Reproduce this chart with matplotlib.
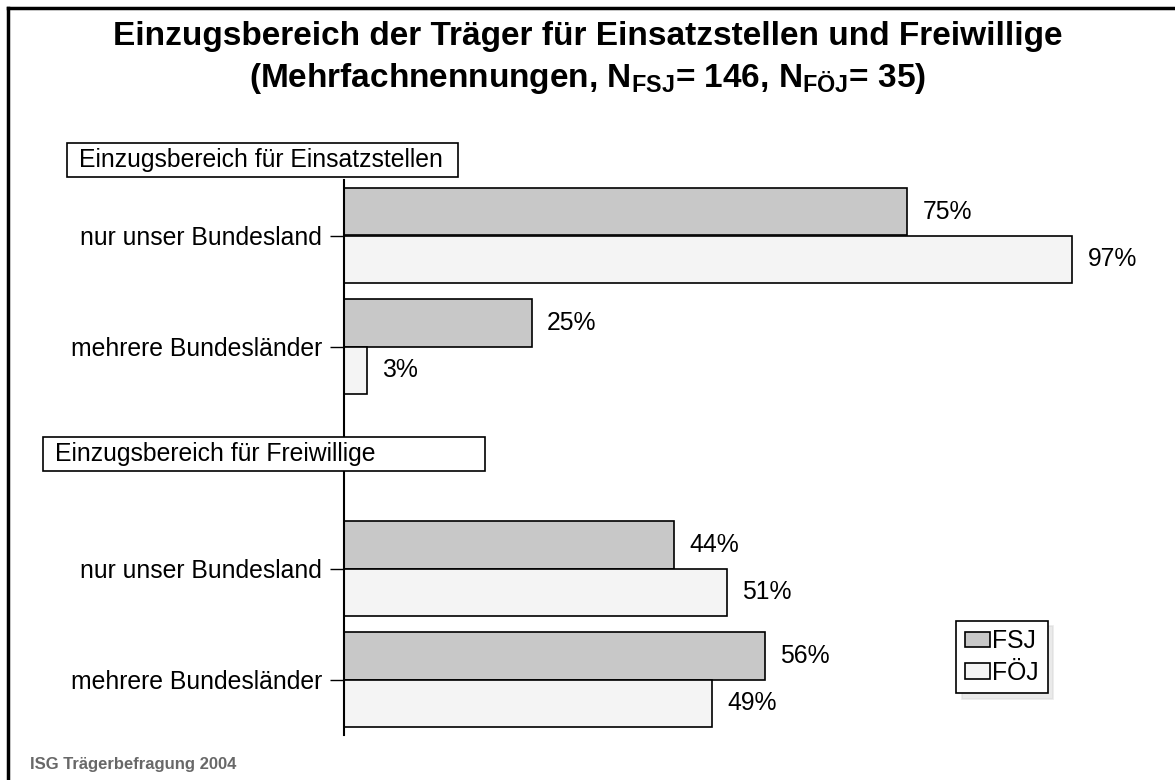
import matplotlib
matplotlib.use("Agg")
import matplotlib.pyplot as plt
from matplotlib.patches import Rectangle
from matplotlib.lines import Line2D
import numpy as np

plt.rcParams["font.family"] = ["Liberation Sans", "DejaVu Sans"]
plt.rcParams["mathtext.fontset"] = "custom"
plt.rcParams["mathtext.rm"] = "Liberation Sans:bold"
plt.rcParams["mathtext.default"] = "rm"

# data
categories = ["nur unser Bundesland", "mehrere Bundesländer",
              "nur unser Bundesland", "mehrere Bundesländer"]
positions = [0, 1, 3, 4]
fsj = [75, 25, 44, 56]
foej = [97, 3, 51, 49]
sections = ["Einzugsbereich für Einsatzstellen", "Einzugsbereich für Freiwillige"]

W, H = 1175, 780
fs = 17.8
fig = plt.figure(figsize=(W / 100, H / 100), dpi=100)

# axes placed in pixel terms
ax_left, ax_right, ax_top, ax_bottom = 344, 1095, 180, 735
ax = fig.add_axes([ax_left / W, 1 - ax_bottom / H,
                   (ax_right - ax_left) / W, (ax_bottom - ax_top) / H])

pos = np.array(positions)
bh = 0.43
ax.barh(pos - bh / 2, fsj, height=bh, color="#c8c8c8", edgecolor="black",
        linewidth=1.2, label="FSJ")
ax.barh(pos + bh / 2, foej, height=bh, color="#f4f4f4", edgecolor="black",
        linewidth=1.2, label="FÖJ")

for p, a, b in zip(pos, fsj, foej):
    ax.annotate(f"{a}%", (a, p - bh / 2), xytext=(11, 0), textcoords="offset points",
                va="center", ha="left", fontsize=fs)
    ax.annotate(f"{b}%", (b, p + bh / 2), xytext=(11, 0), textcoords="offset points",
                va="center", ha="left", fontsize=fs)

ax.set_xlim(0, 100)
ax.set_ylim(4.5, -0.5)
ax.set_yticks(positions)
ax.set_yticklabels(categories, fontsize=fs)
ax.tick_params(axis="y", length=10, width=1, pad=6)
ax.set_xticks([])
for s in ["top", "right", "bottom"]:
    ax.spines[s].set_visible(False)
ax.spines["left"].set_linewidth(1.5)

# section label boxes
def section_box(txt, x0, x1, y0, y1):
    fig.add_artist(Rectangle((x0 / W, 1 - y1 / H), (x1 - x0) / W, (y1 - y0) / H,
                             transform=fig.transFigure, facecolor="white",
                             edgecolor="black", linewidth=1.2, zorder=5))
    fig.text((x0 + 12) / W, 1 - (y0 + y1) / 2 / H, txt, fontsize=fs,
             va="center", ha="left", zorder=6)

section_box(sections[0], 67, 458, 143, 177)
section_box(sections[1], 43, 485, 437, 471)

# title
fig.text(0.5, 1 - 37 / H, "Einzugsbereich der Träger für Einsatzstellen und Freiwillige",
         ha="center", va="center", fontsize=24, fontweight="bold")
fig.text(0.5, 1 - 78 / H,
         r"(Mehrfachnennungen, N$_{\mathrm{FSJ}}$= 146, N$_{\mathrm{FÖJ}}$= 35)",
         ha="center", va="center", fontsize=24, fontweight="bold")

# legend
ax.legend(loc="center", bbox_to_anchor=(1002 / W, 1 - 657 / H),
          bbox_transform=fig.transFigure, fontsize=fs, frameon=True,
          fancybox=False, shadow={"color": "#d6d6d6", "ox": 4, "oy": -4},
          edgecolor="black", handlelength=1.0, handleheight=0.6, handletextpad=0.1,
          borderpad=0.35, labelspacing=0.3, framealpha=1)
ax.get_legend().get_frame().set_linewidth(1.2)

# source note
fig.text(30 / W, 1 - 764 / H, "ISG Trägerbefragung 2004", fontsize=12,
         fontweight="bold", color="#686868", va="center", ha="left")

# frame lines at top and left
fig.add_artist(Line2D([8 / W, 1], [1 - 8 / H, 1 - 8 / H], transform=fig.transFigure,
                      color="black", linewidth=2.5))
fig.add_artist(Line2D([8 / W, 8 / W], [0, 1 - 8 / H], transform=fig.transFigure,
                      color="black", linewidth=2.5))

fig.savefig("out.png", dpi=100)
